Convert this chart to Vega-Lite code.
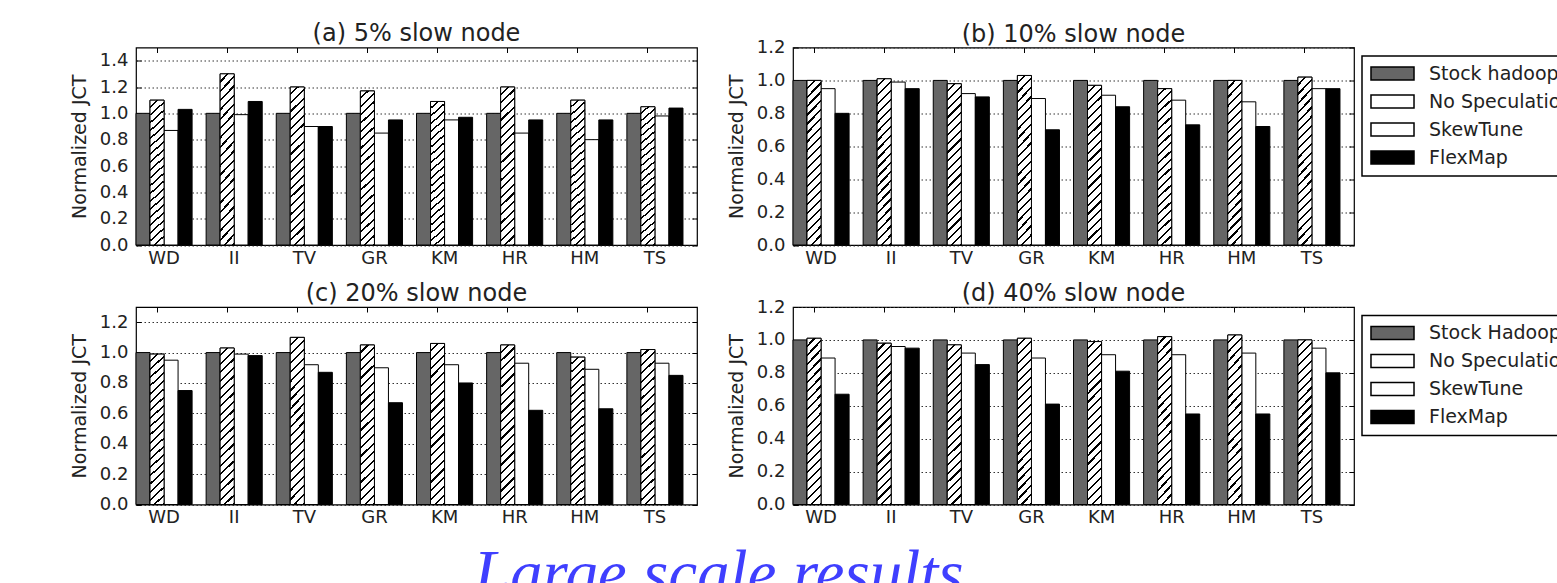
{
  "$schema": "https://vega.github.io/schema/vega-lite/v6.json",
  "autosize": {"type": "none"},
  "padding": {"left": 136, "top": 47.5, "right": 1421, "bottom": 535.5},
  "background": "white",
  "title": {"text": "Large scale results", "orient": "bottom", "anchor": "start", "frame": "bounds", "dx": 404, "offset": 17, "baseline": "top", "font": "Liberation Serif", "fontStyle": "italic", "fontSize": 65, "fontWeight": "normal", "color": "#3f3fff"},
  "data": {"values": [
    {"p":"a","app":"WD","s":"Stock Hadoop","v":1.0},{"p":"a","app":"WD","s":"No Speculation","v":1.10},{"p":"a","app":"WD","s":"SkewTune","v":0.87},{"p":"a","app":"WD","s":"FlexMap","v":1.03},
    {"p":"a","app":"II","s":"Stock Hadoop","v":1.0},{"p":"a","app":"II","s":"No Speculation","v":1.30},{"p":"a","app":"II","s":"SkewTune","v":0.99},{"p":"a","app":"II","s":"FlexMap","v":1.09},
    {"p":"a","app":"TV","s":"Stock Hadoop","v":1.0},{"p":"a","app":"TV","s":"No Speculation","v":1.20},{"p":"a","app":"TV","s":"SkewTune","v":0.90},{"p":"a","app":"TV","s":"FlexMap","v":0.90},
    {"p":"a","app":"GR","s":"Stock Hadoop","v":1.0},{"p":"a","app":"GR","s":"No Speculation","v":1.17},{"p":"a","app":"GR","s":"SkewTune","v":0.85},{"p":"a","app":"GR","s":"FlexMap","v":0.95},
    {"p":"a","app":"KM","s":"Stock Hadoop","v":1.0},{"p":"a","app":"KM","s":"No Speculation","v":1.09},{"p":"a","app":"KM","s":"SkewTune","v":0.95},{"p":"a","app":"KM","s":"FlexMap","v":0.97},
    {"p":"a","app":"HR","s":"Stock Hadoop","v":1.0},{"p":"a","app":"HR","s":"No Speculation","v":1.20},{"p":"a","app":"HR","s":"SkewTune","v":0.85},{"p":"a","app":"HR","s":"FlexMap","v":0.95},
    {"p":"a","app":"HM","s":"Stock Hadoop","v":1.0},{"p":"a","app":"HM","s":"No Speculation","v":1.10},{"p":"a","app":"HM","s":"SkewTune","v":0.80},{"p":"a","app":"HM","s":"FlexMap","v":0.95},
    {"p":"a","app":"TS","s":"Stock Hadoop","v":1.0},{"p":"a","app":"TS","s":"No Speculation","v":1.05},{"p":"a","app":"TS","s":"SkewTune","v":0.98},{"p":"a","app":"TS","s":"FlexMap","v":1.04},
    {"p":"b","app":"WD","s":"Stock Hadoop","v":1.0},{"p":"b","app":"WD","s":"No Speculation","v":1.0},{"p":"b","app":"WD","s":"SkewTune","v":0.95},{"p":"b","app":"WD","s":"FlexMap","v":0.80},
    {"p":"b","app":"II","s":"Stock Hadoop","v":1.0},{"p":"b","app":"II","s":"No Speculation","v":1.01},{"p":"b","app":"II","s":"SkewTune","v":0.99},{"p":"b","app":"II","s":"FlexMap","v":0.95},
    {"p":"b","app":"TV","s":"Stock Hadoop","v":1.0},{"p":"b","app":"TV","s":"No Speculation","v":0.98},{"p":"b","app":"TV","s":"SkewTune","v":0.92},{"p":"b","app":"TV","s":"FlexMap","v":0.90},
    {"p":"b","app":"GR","s":"Stock Hadoop","v":1.0},{"p":"b","app":"GR","s":"No Speculation","v":1.03},{"p":"b","app":"GR","s":"SkewTune","v":0.89},{"p":"b","app":"GR","s":"FlexMap","v":0.70},
    {"p":"b","app":"KM","s":"Stock Hadoop","v":1.0},{"p":"b","app":"KM","s":"No Speculation","v":0.97},{"p":"b","app":"KM","s":"SkewTune","v":0.91},{"p":"b","app":"KM","s":"FlexMap","v":0.84},
    {"p":"b","app":"HR","s":"Stock Hadoop","v":1.0},{"p":"b","app":"HR","s":"No Speculation","v":0.95},{"p":"b","app":"HR","s":"SkewTune","v":0.88},{"p":"b","app":"HR","s":"FlexMap","v":0.73},
    {"p":"b","app":"HM","s":"Stock Hadoop","v":1.0},{"p":"b","app":"HM","s":"No Speculation","v":1.0},{"p":"b","app":"HM","s":"SkewTune","v":0.87},{"p":"b","app":"HM","s":"FlexMap","v":0.72},
    {"p":"b","app":"TS","s":"Stock Hadoop","v":1.0},{"p":"b","app":"TS","s":"No Speculation","v":1.02},{"p":"b","app":"TS","s":"SkewTune","v":0.95},{"p":"b","app":"TS","s":"FlexMap","v":0.95},
    {"p":"c","app":"WD","s":"Stock Hadoop","v":1.0},{"p":"c","app":"WD","s":"No Speculation","v":0.99},{"p":"c","app":"WD","s":"SkewTune","v":0.95},{"p":"c","app":"WD","s":"FlexMap","v":0.75},
    {"p":"c","app":"II","s":"Stock Hadoop","v":1.0},{"p":"c","app":"II","s":"No Speculation","v":1.03},{"p":"c","app":"II","s":"SkewTune","v":0.99},{"p":"c","app":"II","s":"FlexMap","v":0.98},
    {"p":"c","app":"TV","s":"Stock Hadoop","v":1.0},{"p":"c","app":"TV","s":"No Speculation","v":1.10},{"p":"c","app":"TV","s":"SkewTune","v":0.92},{"p":"c","app":"TV","s":"FlexMap","v":0.87},
    {"p":"c","app":"GR","s":"Stock Hadoop","v":1.0},{"p":"c","app":"GR","s":"No Speculation","v":1.05},{"p":"c","app":"GR","s":"SkewTune","v":0.90},{"p":"c","app":"GR","s":"FlexMap","v":0.67},
    {"p":"c","app":"KM","s":"Stock Hadoop","v":1.0},{"p":"c","app":"KM","s":"No Speculation","v":1.06},{"p":"c","app":"KM","s":"SkewTune","v":0.92},{"p":"c","app":"KM","s":"FlexMap","v":0.80},
    {"p":"c","app":"HR","s":"Stock Hadoop","v":1.0},{"p":"c","app":"HR","s":"No Speculation","v":1.05},{"p":"c","app":"HR","s":"SkewTune","v":0.93},{"p":"c","app":"HR","s":"FlexMap","v":0.62},
    {"p":"c","app":"HM","s":"Stock Hadoop","v":1.0},{"p":"c","app":"HM","s":"No Speculation","v":0.97},{"p":"c","app":"HM","s":"SkewTune","v":0.89},{"p":"c","app":"HM","s":"FlexMap","v":0.63},
    {"p":"c","app":"TS","s":"Stock Hadoop","v":1.0},{"p":"c","app":"TS","s":"No Speculation","v":1.02},{"p":"c","app":"TS","s":"SkewTune","v":0.93},{"p":"c","app":"TS","s":"FlexMap","v":0.85},
    {"p":"d","app":"WD","s":"Stock Hadoop","v":1.0},{"p":"d","app":"WD","s":"No Speculation","v":1.01},{"p":"d","app":"WD","s":"SkewTune","v":0.89},{"p":"d","app":"WD","s":"FlexMap","v":0.67},
    {"p":"d","app":"II","s":"Stock Hadoop","v":1.0},{"p":"d","app":"II","s":"No Speculation","v":0.98},{"p":"d","app":"II","s":"SkewTune","v":0.96},{"p":"d","app":"II","s":"FlexMap","v":0.95},
    {"p":"d","app":"TV","s":"Stock Hadoop","v":1.0},{"p":"d","app":"TV","s":"No Speculation","v":0.97},{"p":"d","app":"TV","s":"SkewTune","v":0.92},{"p":"d","app":"TV","s":"FlexMap","v":0.85},
    {"p":"d","app":"GR","s":"Stock Hadoop","v":1.0},{"p":"d","app":"GR","s":"No Speculation","v":1.01},{"p":"d","app":"GR","s":"SkewTune","v":0.89},{"p":"d","app":"GR","s":"FlexMap","v":0.61},
    {"p":"d","app":"KM","s":"Stock Hadoop","v":1.0},{"p":"d","app":"KM","s":"No Speculation","v":0.99},{"p":"d","app":"KM","s":"SkewTune","v":0.91},{"p":"d","app":"KM","s":"FlexMap","v":0.81},
    {"p":"d","app":"HR","s":"Stock Hadoop","v":1.0},{"p":"d","app":"HR","s":"No Speculation","v":1.02},{"p":"d","app":"HR","s":"SkewTune","v":0.91},{"p":"d","app":"HR","s":"FlexMap","v":0.55},
    {"p":"d","app":"HM","s":"Stock Hadoop","v":1.0},{"p":"d","app":"HM","s":"No Speculation","v":1.03},{"p":"d","app":"HM","s":"SkewTune","v":0.92},{"p":"d","app":"HM","s":"FlexMap","v":0.55},
    {"p":"d","app":"TS","s":"Stock Hadoop","v":1.0},{"p":"d","app":"TS","s":"No Speculation","v":1.0},{"p":"d","app":"TS","s":"SkewTune","v":0.95},{"p":"d","app":"TS","s":"FlexMap","v":0.80}
  ]},
  "columns": 2,
  "spacing": {"row": 61.5, "column": 96},
  "bounds": "flush",
  "resolve": {"legend": {"color": "independent"}},
  "concat": [
    {
      "title": {"text": "(a) 5% slow node", "offset": 1},
      "width": 561, "height": 197.5,
      "transform": [{"filter": "datum.p == 'a'"}],
      "resolve": {"axis": {"x": "independent", "y": "independent"}},
      "layer": [
        {"mark": {"type": "bar", "stroke": "#000", "strokeWidth": 1},
         "encoding": {
           "x": {"field": "app", "type": "nominal", "sort": ["WD","II","TV","GR","KM","HR","HM","TS"], "scale": {"type": "band", "paddingInner": 0.2, "paddingOuter": 0.1, "align": 0}, "axis": {"orient": "bottom", "ticks": false, "domain": false, "labelAngle": 0, "labelPadding": 4, "title": null, "bandPosition": 0.375}},
           "xOffset": {"field": "s", "sort": ["Stock Hadoop","No Speculation","SkewTune","FlexMap"], "scale": {"domain": ["Stock Hadoop","No Speculation","SkewTune","FlexMap"], "paddingInner": 0, "paddingOuter": 0}},
           "y": {"field": "v", "type": "quantitative", "scale": {"domain": [0, 1.5], "nice": false}, "axis": {"orient": "left", "values": [0,0.2,0.4,0.6,0.8,1.0,1.2,1.4], "format": ".1f", "ticks": false, "domain": false, "grid": true, "labelPadding": 8, "title": "Normalized JCT", "titleFontSize": 19, "titlePadding": 10}},
           "color": {"field": "s", "type": "nominal", "sort": ["Stock Hadoop","No Speculation","SkewTune","FlexMap"], "legend": null,
             "scale": {"domain": ["Stock Hadoop","No Speculation","SkewTune","FlexMap"], "range": ["#666666", "#ffffff", "#ffffff", "#000000"]}}
         }},
        {"transform": [{"filter": "datum.s == 'No Speculation'"}],
         "mark": {"type": "bar", "stroke": "#000", "strokeWidth": 1,
           "fill": {"gradient": "linear", "x1": 0, "y1": 0, "x2": 0.094, "y2": 1.079, "stops": [
             {"offset":0,"color":"#fff"},{"offset":0.0375,"color":"#fff"},{"offset":0.0375,"color":"#000"},{"offset":0.05,"color":"#000"},
             {"offset":0.05,"color":"#fff"},{"offset":0.0875,"color":"#fff"},{"offset":0.0875,"color":"#000"},{"offset":0.1,"color":"#000"},
             {"offset":0.1,"color":"#fff"},{"offset":0.1375,"color":"#fff"},{"offset":0.1375,"color":"#000"},{"offset":0.15,"color":"#000"},
             {"offset":0.15,"color":"#fff"},{"offset":0.1875,"color":"#fff"},{"offset":0.1875,"color":"#000"},{"offset":0.2,"color":"#000"},
             {"offset":0.2,"color":"#fff"},{"offset":0.2375,"color":"#fff"},{"offset":0.2375,"color":"#000"},{"offset":0.25,"color":"#000"},
             {"offset":0.25,"color":"#fff"},{"offset":0.2875,"color":"#fff"},{"offset":0.2875,"color":"#000"},{"offset":0.3,"color":"#000"},
             {"offset":0.3,"color":"#fff"},{"offset":0.3375,"color":"#fff"},{"offset":0.3375,"color":"#000"},{"offset":0.35,"color":"#000"},
             {"offset":0.35,"color":"#fff"},{"offset":0.3875,"color":"#fff"},{"offset":0.3875,"color":"#000"},{"offset":0.4,"color":"#000"},
             {"offset":0.4,"color":"#fff"},{"offset":0.4375,"color":"#fff"},{"offset":0.4375,"color":"#000"},{"offset":0.45,"color":"#000"},
             {"offset":0.45,"color":"#fff"},{"offset":0.4875,"color":"#fff"},{"offset":0.4875,"color":"#000"},{"offset":0.5,"color":"#000"},
             {"offset":0.5,"color":"#fff"},{"offset":0.5375,"color":"#fff"},{"offset":0.5375,"color":"#000"},{"offset":0.55,"color":"#000"},
             {"offset":0.55,"color":"#fff"},{"offset":0.5875,"color":"#fff"},{"offset":0.5875,"color":"#000"},{"offset":0.6,"color":"#000"},
             {"offset":0.6,"color":"#fff"},{"offset":0.6375,"color":"#fff"},{"offset":0.6375,"color":"#000"},{"offset":0.65,"color":"#000"},
             {"offset":0.65,"color":"#fff"},{"offset":0.6875,"color":"#fff"},{"offset":0.6875,"color":"#000"},{"offset":0.7,"color":"#000"},
             {"offset":0.7,"color":"#fff"},{"offset":0.7375,"color":"#fff"},{"offset":0.7375,"color":"#000"},{"offset":0.75,"color":"#000"},
             {"offset":0.75,"color":"#fff"},{"offset":0.7875,"color":"#fff"},{"offset":0.7875,"color":"#000"},{"offset":0.8,"color":"#000"},
             {"offset":0.8,"color":"#fff"},{"offset":0.8375,"color":"#fff"},{"offset":0.8375,"color":"#000"},{"offset":0.85,"color":"#000"},
             {"offset":0.85,"color":"#fff"},{"offset":0.8875,"color":"#fff"},{"offset":0.8875,"color":"#000"},{"offset":0.9,"color":"#000"},
             {"offset":0.9,"color":"#fff"},{"offset":0.9375,"color":"#fff"},{"offset":0.9375,"color":"#000"},{"offset":0.95,"color":"#000"},
             {"offset":0.95,"color":"#fff"},{"offset":0.9875,"color":"#fff"},{"offset":0.9875,"color":"#000"},{"offset":1,"color":"#000"}
           ]}},
         "encoding": {
           "x": {"field": "app", "type": "nominal", "sort": ["WD","II","TV","GR","KM","HR","HM","TS"], "axis": {"orient": "top", "labels": false, "tickSize": -5, "domain": false, "grid": false, "title": null, "bandPosition": 0.375}},
           "xOffset": {"field": "s", "sort": ["Stock Hadoop","No Speculation","SkewTune","FlexMap"], "scale": {"domain": ["Stock Hadoop","No Speculation","SkewTune","FlexMap"], "paddingInner": 0, "paddingOuter": 0}},
           "y": {"field": "v", "type": "quantitative", "scale": {"domain": [0, 1.5], "nice": false}, "axis": {"orient": "right", "values": [0,0.2,0.4,0.6,0.8,1.0,1.2,1.4], "labels": false, "tickSize": -5, "domain": false, "grid": false, "title": null}}
         }},
        {"mark": {"type": "bar", "opacity": 0},
         "encoding": {
           "x": {"field": "app", "type": "nominal", "sort": ["WD","II","TV","GR","KM","HR","HM","TS"], "axis": null},
           "xOffset": {"field": "s", "sort": ["Stock Hadoop","No Speculation","SkewTune","FlexMap"], "scale": {"domain": ["Stock Hadoop","No Speculation","SkewTune","FlexMap"], "paddingInner": 0, "paddingOuter": 0}},
           "y": {"field": "v", "type": "quantitative", "scale": {"domain": [0, 1.5], "nice": false}, "axis": {"orient": "left", "values": [0,0.2,0.4,0.6,0.8,1.0,1.2,1.4], "labels": false, "tickSize": -5, "domain": false, "grid": false, "title": null}}
         }}
      ]
    },
    {
      "title": {"text": "(b) 10% slow node", "offset": -8},
      "width": 561, "height": 197.5,
      "transform": [{"filter": "datum.p == 'b'"}],
      "resolve": {"axis": {"x": "independent", "y": "independent"}},
      "layer": [
        {"mark": {"type": "bar", "stroke": "#000", "strokeWidth": 1},
         "encoding": {
           "x": {"field": "app", "type": "nominal", "sort": ["WD","II","TV","GR","KM","HR","HM","TS"], "scale": {"type": "band", "paddingInner": 0.2, "paddingOuter": 0.1, "align": 0}, "axis": {"orient": "bottom", "ticks": false, "domain": false, "labelAngle": 0, "labelPadding": 4, "title": null, "bandPosition": 0.375}},
           "xOffset": {"field": "s", "sort": ["Stock Hadoop","No Speculation","SkewTune","FlexMap"], "scale": {"domain": ["Stock Hadoop","No Speculation","SkewTune","FlexMap"], "paddingInner": 0, "paddingOuter": 0}},
           "y": {"field": "v", "type": "quantitative", "scale": {"domain": [0, 1.2], "nice": false}, "axis": {"orient": "left", "values": [0,0.2,0.4,0.6,0.8,1.0,1.2], "format": ".1f", "ticks": false, "domain": false, "grid": true, "labelPadding": 8, "title": "Normalized JCT", "titleFontSize": 19, "titlePadding": 10}},
           "color": {"field": "s", "type": "nominal", "sort": ["Stock Hadoop","No Speculation","SkewTune","FlexMap"],
             "legend": {"orient": "none", "legendX": 569, "legendY": 8.5, "title": null, "labelExpr": "datum.label == 'Stock Hadoop' ? 'Stock hadoop' : datum.label"}}
         }},
        {"transform": [{"filter": "datum.s == 'No Speculation'"}],
         "mark": {"type": "bar", "stroke": "#000", "strokeWidth": 1,
           "fill": {"gradient": "linear", "x1": 0, "y1": 0, "x2": 0.094, "y2": 1.079, "stops": [
             {"offset":0,"color":"#fff"},{"offset":0.0375,"color":"#fff"},{"offset":0.0375,"color":"#000"},{"offset":0.05,"color":"#000"},
             {"offset":0.05,"color":"#fff"},{"offset":0.0875,"color":"#fff"},{"offset":0.0875,"color":"#000"},{"offset":0.1,"color":"#000"},
             {"offset":0.1,"color":"#fff"},{"offset":0.1375,"color":"#fff"},{"offset":0.1375,"color":"#000"},{"offset":0.15,"color":"#000"},
             {"offset":0.15,"color":"#fff"},{"offset":0.1875,"color":"#fff"},{"offset":0.1875,"color":"#000"},{"offset":0.2,"color":"#000"},
             {"offset":0.2,"color":"#fff"},{"offset":0.2375,"color":"#fff"},{"offset":0.2375,"color":"#000"},{"offset":0.25,"color":"#000"},
             {"offset":0.25,"color":"#fff"},{"offset":0.2875,"color":"#fff"},{"offset":0.2875,"color":"#000"},{"offset":0.3,"color":"#000"},
             {"offset":0.3,"color":"#fff"},{"offset":0.3375,"color":"#fff"},{"offset":0.3375,"color":"#000"},{"offset":0.35,"color":"#000"},
             {"offset":0.35,"color":"#fff"},{"offset":0.3875,"color":"#fff"},{"offset":0.3875,"color":"#000"},{"offset":0.4,"color":"#000"},
             {"offset":0.4,"color":"#fff"},{"offset":0.4375,"color":"#fff"},{"offset":0.4375,"color":"#000"},{"offset":0.45,"color":"#000"},
             {"offset":0.45,"color":"#fff"},{"offset":0.4875,"color":"#fff"},{"offset":0.4875,"color":"#000"},{"offset":0.5,"color":"#000"},
             {"offset":0.5,"color":"#fff"},{"offset":0.5375,"color":"#fff"},{"offset":0.5375,"color":"#000"},{"offset":0.55,"color":"#000"},
             {"offset":0.55,"color":"#fff"},{"offset":0.5875,"color":"#fff"},{"offset":0.5875,"color":"#000"},{"offset":0.6,"color":"#000"},
             {"offset":0.6,"color":"#fff"},{"offset":0.6375,"color":"#fff"},{"offset":0.6375,"color":"#000"},{"offset":0.65,"color":"#000"},
             {"offset":0.65,"color":"#fff"},{"offset":0.6875,"color":"#fff"},{"offset":0.6875,"color":"#000"},{"offset":0.7,"color":"#000"},
             {"offset":0.7,"color":"#fff"},{"offset":0.7375,"color":"#fff"},{"offset":0.7375,"color":"#000"},{"offset":0.75,"color":"#000"},
             {"offset":0.75,"color":"#fff"},{"offset":0.7875,"color":"#fff"},{"offset":0.7875,"color":"#000"},{"offset":0.8,"color":"#000"},
             {"offset":0.8,"color":"#fff"},{"offset":0.8375,"color":"#fff"},{"offset":0.8375,"color":"#000"},{"offset":0.85,"color":"#000"},
             {"offset":0.85,"color":"#fff"},{"offset":0.8875,"color":"#fff"},{"offset":0.8875,"color":"#000"},{"offset":0.9,"color":"#000"},
             {"offset":0.9,"color":"#fff"},{"offset":0.9375,"color":"#fff"},{"offset":0.9375,"color":"#000"},{"offset":0.95,"color":"#000"},
             {"offset":0.95,"color":"#fff"},{"offset":0.9875,"color":"#fff"},{"offset":0.9875,"color":"#000"},{"offset":1,"color":"#000"}
           ]}},
         "encoding": {
           "x": {"field": "app", "type": "nominal", "sort": ["WD","II","TV","GR","KM","HR","HM","TS"], "axis": {"orient": "top", "labels": false, "tickSize": -5, "domain": false, "grid": false, "title": null, "bandPosition": 0.375}},
           "xOffset": {"field": "s", "sort": ["Stock Hadoop","No Speculation","SkewTune","FlexMap"], "scale": {"domain": ["Stock Hadoop","No Speculation","SkewTune","FlexMap"], "paddingInner": 0, "paddingOuter": 0}},
           "y": {"field": "v", "type": "quantitative", "scale": {"domain": [0, 1.2], "nice": false}, "axis": {"orient": "right", "values": [0,0.2,0.4,0.6,0.8,1.0,1.2], "labels": false, "tickSize": -5, "domain": false, "grid": false, "title": null}}
         }},
        {"mark": {"type": "bar", "opacity": 0},
         "encoding": {
           "x": {"field": "app", "type": "nominal", "sort": ["WD","II","TV","GR","KM","HR","HM","TS"], "axis": null},
           "xOffset": {"field": "s", "sort": ["Stock Hadoop","No Speculation","SkewTune","FlexMap"], "scale": {"domain": ["Stock Hadoop","No Speculation","SkewTune","FlexMap"], "paddingInner": 0, "paddingOuter": 0}},
           "y": {"field": "v", "type": "quantitative", "scale": {"domain": [0, 1.2], "nice": false}, "axis": {"orient": "left", "values": [0,0.2,0.4,0.6,0.8,1.0,1.2], "labels": false, "tickSize": -5, "domain": false, "grid": false, "title": null}}
         }}
      ]
    },
    {
      "title": {"text": "(c) 20% slow node", "offset": 1},
      "width": 561, "height": 197.5,
      "transform": [{"filter": "datum.p == 'c'"}],
      "resolve": {"axis": {"x": "independent", "y": "independent"}},
      "layer": [
        {"mark": {"type": "bar", "stroke": "#000", "strokeWidth": 1},
         "encoding": {
           "x": {"field": "app", "type": "nominal", "sort": ["WD","II","TV","GR","KM","HR","HM","TS"], "scale": {"type": "band", "paddingInner": 0.2, "paddingOuter": 0.1, "align": 0}, "axis": {"orient": "bottom", "ticks": false, "domain": false, "labelAngle": 0, "labelPadding": 4, "title": null, "bandPosition": 0.375}},
           "xOffset": {"field": "s", "sort": ["Stock Hadoop","No Speculation","SkewTune","FlexMap"], "scale": {"domain": ["Stock Hadoop","No Speculation","SkewTune","FlexMap"], "paddingInner": 0, "paddingOuter": 0}},
           "y": {"field": "v", "type": "quantitative", "scale": {"domain": [0, 1.3], "nice": false}, "axis": {"orient": "left", "values": [0,0.2,0.4,0.6,0.8,1.0,1.2], "format": ".1f", "ticks": false, "domain": false, "grid": true, "labelPadding": 8, "title": "Normalized JCT", "titleFontSize": 19, "titlePadding": 10}},
           "color": {"field": "s", "type": "nominal", "sort": ["Stock Hadoop","No Speculation","SkewTune","FlexMap"], "legend": null}
         }},
        {"transform": [{"filter": "datum.s == 'No Speculation'"}],
         "mark": {"type": "bar", "stroke": "#000", "strokeWidth": 1,
           "fill": {"gradient": "linear", "x1": 0, "y1": 0, "x2": 0.094, "y2": 1.079, "stops": [
             {"offset":0,"color":"#fff"},{"offset":0.0375,"color":"#fff"},{"offset":0.0375,"color":"#000"},{"offset":0.05,"color":"#000"},
             {"offset":0.05,"color":"#fff"},{"offset":0.0875,"color":"#fff"},{"offset":0.0875,"color":"#000"},{"offset":0.1,"color":"#000"},
             {"offset":0.1,"color":"#fff"},{"offset":0.1375,"color":"#fff"},{"offset":0.1375,"color":"#000"},{"offset":0.15,"color":"#000"},
             {"offset":0.15,"color":"#fff"},{"offset":0.1875,"color":"#fff"},{"offset":0.1875,"color":"#000"},{"offset":0.2,"color":"#000"},
             {"offset":0.2,"color":"#fff"},{"offset":0.2375,"color":"#fff"},{"offset":0.2375,"color":"#000"},{"offset":0.25,"color":"#000"},
             {"offset":0.25,"color":"#fff"},{"offset":0.2875,"color":"#fff"},{"offset":0.2875,"color":"#000"},{"offset":0.3,"color":"#000"},
             {"offset":0.3,"color":"#fff"},{"offset":0.3375,"color":"#fff"},{"offset":0.3375,"color":"#000"},{"offset":0.35,"color":"#000"},
             {"offset":0.35,"color":"#fff"},{"offset":0.3875,"color":"#fff"},{"offset":0.3875,"color":"#000"},{"offset":0.4,"color":"#000"},
             {"offset":0.4,"color":"#fff"},{"offset":0.4375,"color":"#fff"},{"offset":0.4375,"color":"#000"},{"offset":0.45,"color":"#000"},
             {"offset":0.45,"color":"#fff"},{"offset":0.4875,"color":"#fff"},{"offset":0.4875,"color":"#000"},{"offset":0.5,"color":"#000"},
             {"offset":0.5,"color":"#fff"},{"offset":0.5375,"color":"#fff"},{"offset":0.5375,"color":"#000"},{"offset":0.55,"color":"#000"},
             {"offset":0.55,"color":"#fff"},{"offset":0.5875,"color":"#fff"},{"offset":0.5875,"color":"#000"},{"offset":0.6,"color":"#000"},
             {"offset":0.6,"color":"#fff"},{"offset":0.6375,"color":"#fff"},{"offset":0.6375,"color":"#000"},{"offset":0.65,"color":"#000"},
             {"offset":0.65,"color":"#fff"},{"offset":0.6875,"color":"#fff"},{"offset":0.6875,"color":"#000"},{"offset":0.7,"color":"#000"},
             {"offset":0.7,"color":"#fff"},{"offset":0.7375,"color":"#fff"},{"offset":0.7375,"color":"#000"},{"offset":0.75,"color":"#000"},
             {"offset":0.75,"color":"#fff"},{"offset":0.7875,"color":"#fff"},{"offset":0.7875,"color":"#000"},{"offset":0.8,"color":"#000"},
             {"offset":0.8,"color":"#fff"},{"offset":0.8375,"color":"#fff"},{"offset":0.8375,"color":"#000"},{"offset":0.85,"color":"#000"},
             {"offset":0.85,"color":"#fff"},{"offset":0.8875,"color":"#fff"},{"offset":0.8875,"color":"#000"},{"offset":0.9,"color":"#000"},
             {"offset":0.9,"color":"#fff"},{"offset":0.9375,"color":"#fff"},{"offset":0.9375,"color":"#000"},{"offset":0.95,"color":"#000"},
             {"offset":0.95,"color":"#fff"},{"offset":0.9875,"color":"#fff"},{"offset":0.9875,"color":"#000"},{"offset":1,"color":"#000"}
           ]}},
         "encoding": {
           "x": {"field": "app", "type": "nominal", "sort": ["WD","II","TV","GR","KM","HR","HM","TS"], "axis": {"orient": "top", "labels": false, "tickSize": -5, "domain": false, "grid": false, "title": null, "bandPosition": 0.375}},
           "xOffset": {"field": "s", "sort": ["Stock Hadoop","No Speculation","SkewTune","FlexMap"], "scale": {"domain": ["Stock Hadoop","No Speculation","SkewTune","FlexMap"], "paddingInner": 0, "paddingOuter": 0}},
           "y": {"field": "v", "type": "quantitative", "scale": {"domain": [0, 1.3], "nice": false}, "axis": {"orient": "right", "values": [0,0.2,0.4,0.6,0.8,1.0,1.2], "labels": false, "tickSize": -5, "domain": false, "grid": false, "title": null}}
         }},
        {"mark": {"type": "bar", "opacity": 0},
         "encoding": {
           "x": {"field": "app", "type": "nominal", "sort": ["WD","II","TV","GR","KM","HR","HM","TS"], "axis": null},
           "xOffset": {"field": "s", "sort": ["Stock Hadoop","No Speculation","SkewTune","FlexMap"], "scale": {"domain": ["Stock Hadoop","No Speculation","SkewTune","FlexMap"], "paddingInner": 0, "paddingOuter": 0}},
           "y": {"field": "v", "type": "quantitative", "scale": {"domain": [0, 1.3], "nice": false}, "axis": {"orient": "left", "values": [0,0.2,0.4,0.6,0.8,1.0,1.2], "labels": false, "tickSize": -5, "domain": false, "grid": false, "title": null}}
         }}
      ]
    },
    {
      "title": {"text": "(d) 40% slow node", "offset": -8},
      "width": 561, "height": 197.5,
      "transform": [{"filter": "datum.p == 'd'"}],
      "resolve": {"axis": {"x": "independent", "y": "independent"}},
      "layer": [
        {"mark": {"type": "bar", "stroke": "#000", "strokeWidth": 1},
         "encoding": {
           "x": {"field": "app", "type": "nominal", "sort": ["WD","II","TV","GR","KM","HR","HM","TS"], "scale": {"type": "band", "paddingInner": 0.2, "paddingOuter": 0.1, "align": 0}, "axis": {"orient": "bottom", "ticks": false, "domain": false, "labelAngle": 0, "labelPadding": 4, "title": null, "bandPosition": 0.375}},
           "xOffset": {"field": "s", "sort": ["Stock Hadoop","No Speculation","SkewTune","FlexMap"], "scale": {"domain": ["Stock Hadoop","No Speculation","SkewTune","FlexMap"], "paddingInner": 0, "paddingOuter": 0}},
           "y": {"field": "v", "type": "quantitative", "scale": {"domain": [0, 1.2], "nice": false}, "axis": {"orient": "left", "values": [0,0.2,0.4,0.6,0.8,1.0,1.2], "format": ".1f", "ticks": false, "domain": false, "grid": true, "labelPadding": 8, "title": "Normalized JCT", "titleFontSize": 19, "titlePadding": 10}},
           "color": {"field": "s", "type": "nominal", "sort": ["Stock Hadoop","No Speculation","SkewTune","FlexMap"],
             "legend": {"orient": "none", "legendX": 569, "legendY": 8.5, "title": null}}
         }},
        {"transform": [{"filter": "datum.s == 'No Speculation'"}],
         "mark": {"type": "bar", "stroke": "#000", "strokeWidth": 1,
           "fill": {"gradient": "linear", "x1": 0, "y1": 0, "x2": 0.094, "y2": 1.079, "stops": [
             {"offset":0,"color":"#fff"},{"offset":0.0375,"color":"#fff"},{"offset":0.0375,"color":"#000"},{"offset":0.05,"color":"#000"},
             {"offset":0.05,"color":"#fff"},{"offset":0.0875,"color":"#fff"},{"offset":0.0875,"color":"#000"},{"offset":0.1,"color":"#000"},
             {"offset":0.1,"color":"#fff"},{"offset":0.1375,"color":"#fff"},{"offset":0.1375,"color":"#000"},{"offset":0.15,"color":"#000"},
             {"offset":0.15,"color":"#fff"},{"offset":0.1875,"color":"#fff"},{"offset":0.1875,"color":"#000"},{"offset":0.2,"color":"#000"},
             {"offset":0.2,"color":"#fff"},{"offset":0.2375,"color":"#fff"},{"offset":0.2375,"color":"#000"},{"offset":0.25,"color":"#000"},
             {"offset":0.25,"color":"#fff"},{"offset":0.2875,"color":"#fff"},{"offset":0.2875,"color":"#000"},{"offset":0.3,"color":"#000"},
             {"offset":0.3,"color":"#fff"},{"offset":0.3375,"color":"#fff"},{"offset":0.3375,"color":"#000"},{"offset":0.35,"color":"#000"},
             {"offset":0.35,"color":"#fff"},{"offset":0.3875,"color":"#fff"},{"offset":0.3875,"color":"#000"},{"offset":0.4,"color":"#000"},
             {"offset":0.4,"color":"#fff"},{"offset":0.4375,"color":"#fff"},{"offset":0.4375,"color":"#000"},{"offset":0.45,"color":"#000"},
             {"offset":0.45,"color":"#fff"},{"offset":0.4875,"color":"#fff"},{"offset":0.4875,"color":"#000"},{"offset":0.5,"color":"#000"},
             {"offset":0.5,"color":"#fff"},{"offset":0.5375,"color":"#fff"},{"offset":0.5375,"color":"#000"},{"offset":0.55,"color":"#000"},
             {"offset":0.55,"color":"#fff"},{"offset":0.5875,"color":"#fff"},{"offset":0.5875,"color":"#000"},{"offset":0.6,"color":"#000"},
             {"offset":0.6,"color":"#fff"},{"offset":0.6375,"color":"#fff"},{"offset":0.6375,"color":"#000"},{"offset":0.65,"color":"#000"},
             {"offset":0.65,"color":"#fff"},{"offset":0.6875,"color":"#fff"},{"offset":0.6875,"color":"#000"},{"offset":0.7,"color":"#000"},
             {"offset":0.7,"color":"#fff"},{"offset":0.7375,"color":"#fff"},{"offset":0.7375,"color":"#000"},{"offset":0.75,"color":"#000"},
             {"offset":0.75,"color":"#fff"},{"offset":0.7875,"color":"#fff"},{"offset":0.7875,"color":"#000"},{"offset":0.8,"color":"#000"},
             {"offset":0.8,"color":"#fff"},{"offset":0.8375,"color":"#fff"},{"offset":0.8375,"color":"#000"},{"offset":0.85,"color":"#000"},
             {"offset":0.85,"color":"#fff"},{"offset":0.8875,"color":"#fff"},{"offset":0.8875,"color":"#000"},{"offset":0.9,"color":"#000"},
             {"offset":0.9,"color":"#fff"},{"offset":0.9375,"color":"#fff"},{"offset":0.9375,"color":"#000"},{"offset":0.95,"color":"#000"},
             {"offset":0.95,"color":"#fff"},{"offset":0.9875,"color":"#fff"},{"offset":0.9875,"color":"#000"},{"offset":1,"color":"#000"}
           ]}},
         "encoding": {
           "x": {"field": "app", "type": "nominal", "sort": ["WD","II","TV","GR","KM","HR","HM","TS"], "axis": {"orient": "top", "labels": false, "tickSize": -5, "domain": false, "grid": false, "title": null, "bandPosition": 0.375}},
           "xOffset": {"field": "s", "sort": ["Stock Hadoop","No Speculation","SkewTune","FlexMap"], "scale": {"domain": ["Stock Hadoop","No Speculation","SkewTune","FlexMap"], "paddingInner": 0, "paddingOuter": 0}},
           "y": {"field": "v", "type": "quantitative", "scale": {"domain": [0, 1.2], "nice": false}, "axis": {"orient": "right", "values": [0,0.2,0.4,0.6,0.8,1.0,1.2], "labels": false, "tickSize": -5, "domain": false, "grid": false, "title": null}}
         }},
        {"mark": {"type": "bar", "opacity": 0},
         "encoding": {
           "x": {"field": "app", "type": "nominal", "sort": ["WD","II","TV","GR","KM","HR","HM","TS"], "axis": null},
           "xOffset": {"field": "s", "sort": ["Stock Hadoop","No Speculation","SkewTune","FlexMap"], "scale": {"domain": ["Stock Hadoop","No Speculation","SkewTune","FlexMap"], "paddingInner": 0, "paddingOuter": 0}},
           "y": {"field": "v", "type": "quantitative", "scale": {"domain": [0, 1.2], "nice": false}, "axis": {"orient": "left", "values": [0,0.2,0.4,0.6,0.8,1.0,1.2], "labels": false, "tickSize": -5, "domain": false, "grid": false, "title": null}}
         }}
      ]
    }
  ],
  "config": {
    "font": "DejaVu Sans",
    "view": {"stroke": "#000", "strokeWidth": 1.2},
    "axis": {"labelFont": "DejaVu Sans", "labelFontSize": 18, "labelColor": "#222", "titleFont": "DejaVu Sans", "titleFontWeight": "normal", "titleColor": "#222", "tickColor": "#000", "tickWidth": 1, "gridColor": "#333", "gridDash": [1.5, 2.5], "gridWidth": 1},
    "title": {"font": "DejaVu Sans", "fontSize": 24, "fontWeight": "normal", "color": "#222", "frame": "group"},
    "legend": {"labelFont": "DejaVu Sans", "labelFontSize": 19, "labelColor": "#222", "symbolType": "M-3.31,-1H3.31V1H-3.31Z", "symbolSize": 169, "symbolOffset": 13, "symbolStrokeColor": "#000", "symbolStrokeWidth": 1.5, "symbolOpacity": 1, "rowPadding": 8, "labelOffset": 27, "padding": 8, "strokeColor": "#000", "strokeWidth": 1.5, "fillColor": "#fff", "cornerRadius": 0}
  }
}
